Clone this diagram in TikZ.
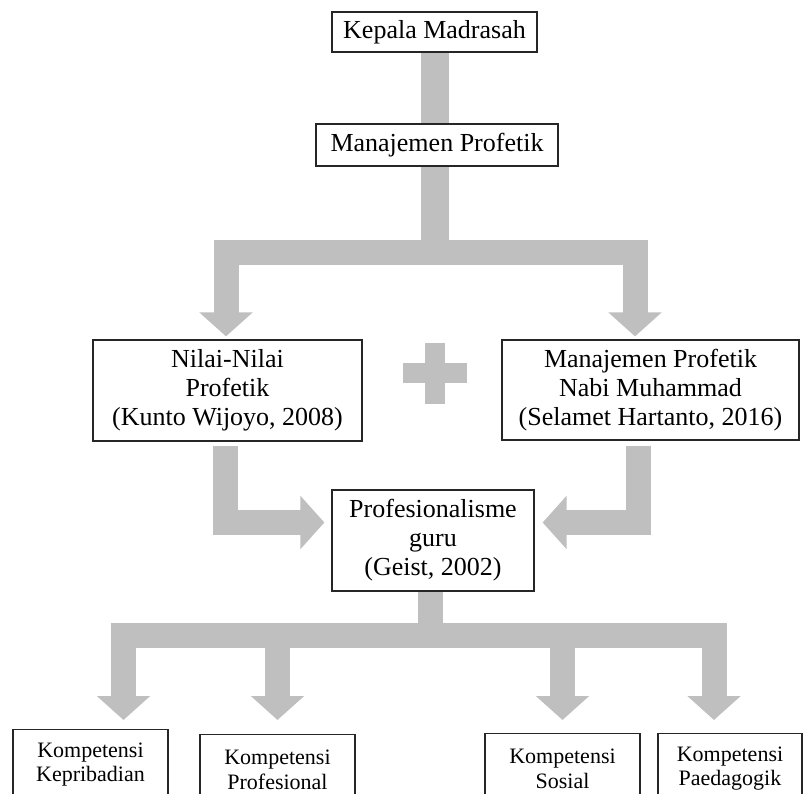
\documentclass[tikz,border=0pt]{standalone}
\usepackage{fontspec}
\setmainfont{Liberation Serif}
\usetikzlibrary{arrows.meta,calc}
\definecolor{arrowgray}{RGB}{191,191,191}
\pgfdeclarelayer{background}
\pgfsetlayers{background,main}
\begin{document}
\begin{tikzpicture}[x=1pt,y=-1pt,
  box/.style={draw=black!85, line width=1.2pt, fill=white, align=center, inner sep=0pt,
    font=\fontsize{26}{29}\selectfont},
  smallbox/.style={box, font=\fontsize{22}{24.5}\selectfont},
  flow/.style={draw=arrowgray, line width=25pt, line join=miter, line cap=butt},
  flowarrow/.style={flow, -{Triangle[width=52pt,length=24pt]}},
]
\useasboundingbox (0,0) rectangle (803,793);
\clip (0,0) rectangle (803,793);

% boxes
\node[box, minimum width=205pt, minimum height=40pt] (km) at (434.5,32) {Kepala Madrasah};
\node[box, minimum width=242pt, minimum height=42pt] (mp) at (437,145) {Manajemen Profetik};
\node[box, minimum width=269pt, minimum height=101pt] (nn) at (227.5,390.5)
  {Nilai-Nilai\\Profetik\\(Kunto Wijoyo, 2008)};
\node[box, minimum width=297pt, minimum height=100pt] (nm) at (650.5,390)
  {Manajemen Profetik\\Nabi Muhammad\\(Selamet Hartanto, 2016)};
\node[box, minimum width=202pt, minimum height=101pt] (pg) at (433,540.5)
  {Profesionalisme\\guru\\(Geist, 2002)};
\node[smallbox, minimum width=155pt, minimum height=70pt, anchor=north] (k1) at (90.5,729) {Kompetensi\\Kepribadian};
\node[smallbox, minimum width=155pt, minimum height=70pt, anchor=north] (k2) at (277.5,734) {Kompetensi\\Profesional};
\node[smallbox, minimum width=155pt, minimum height=70pt, anchor=north] (k3) at (562.5,733) {Kompetensi\\Sosial};
\node[smallbox, minimum width=144pt, minimum height=70pt, anchor=north] (k4) at (730,733) {Kompetensi\\Paedagogik};

% helper coordinates
\coordinate (s1) at ([xshift=-2pt]mp.south);
\coordinate (b1) at ([yshift=-86pt]s1);
\coordinate (t1) at ([xshift=-1.5pt,yshift=3pt]nn.north);
\coordinate (t2) at ([xshift=-15.5pt,yshift=3pt]nm.north);
\coordinate (s3) at ([xshift=-2.5pt,yshift=-4.5pt]nn.south);
\coordinate (t3) at ([xshift=-7pt,yshift=18pt]pg.west);
\coordinate (s4) at ([xshift=-12pt,yshift=-5pt]nm.south);
\coordinate (t4) at ([xshift=8pt,yshift=18pt]pg.east);
\coordinate (s5) at ([xshift=-2.5pt]pg.south);
\coordinate (b5) at ([yshift=-43.5pt]s5);
\coordinate (t5a) at ([xshift=33pt,yshift=9pt]k1.north);
\coordinate (t5b) at ([yshift=14pt]k2.north);
\coordinate (t5c) at ([yshift=13pt]k3.north);
\coordinate (t5d) at ([xshift=-16pt,yshift=13pt]k4.north);

\begin{pgfonlayer}{background}
  \draw[flow, line width=28pt] (km.south -| s1) -- (s1);
  \draw[flow, line width=28pt] (s1) -- (b1);
  \draw[flowarrow] (s1) -- (b1) -| (t1);
  \draw[flowarrow] (s1) -- (b1) -| (t2);
  \draw[flowarrow] (s3) |- (t3);
  \draw[flowarrow] (s4) |- (t4);
  \draw[flowarrow] (s5) -- (b5) -| (t5a);
  \draw[flowarrow] (s5) -- (b5) -| (t5b);
  \draw[flowarrow] (s5) -- (b5) -| (t5c);
  \draw[flowarrow] (s5) -- (b5) -| (t5d);
  % plus sign
  \fill[arrowgray] (403,363) rectangle (467,383);
  \fill[arrowgray] (425,343) rectangle (445,404);
\end{pgfonlayer}
\end{tikzpicture}
\end{document}
